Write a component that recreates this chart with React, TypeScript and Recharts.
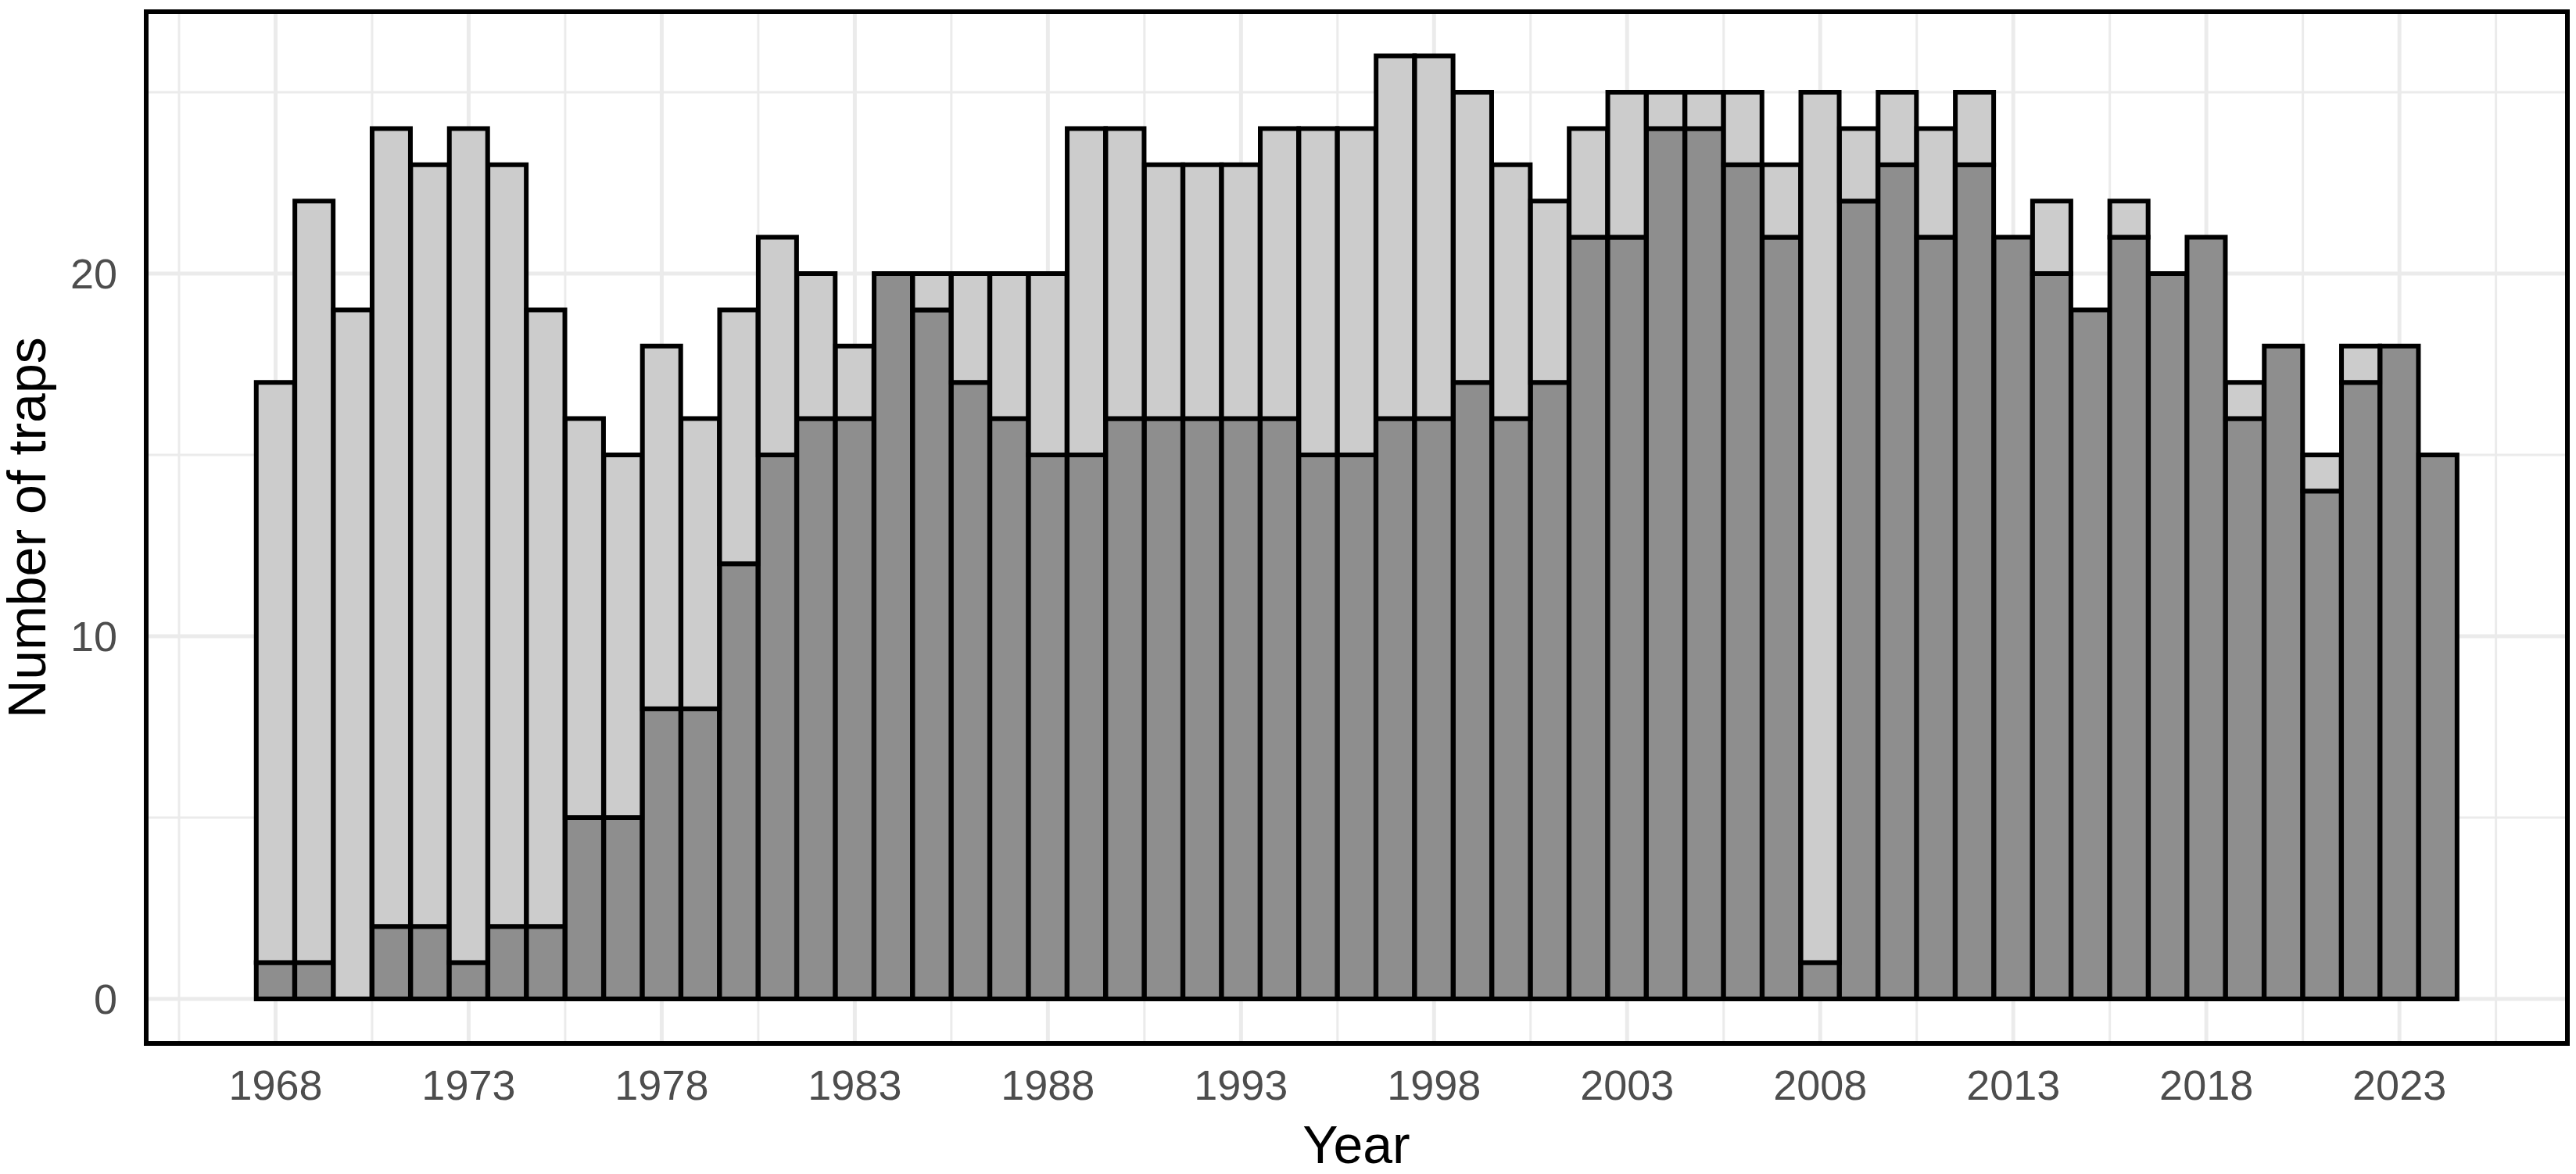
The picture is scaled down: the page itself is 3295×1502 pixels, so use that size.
import { BarChart, Bar, XAxis, YAxis, ReferenceLine, ReferenceArea } from "recharts";

// one bar per year, stacked: dark part at the bottom, light part up to the total
const years = [
  1968, 1969, 1970, 1971, 1972, 1973, 1974, 1975, 1976, 1977, 1978, 1979,
  1980, 1981, 1982, 1983, 1984, 1985, 1986, 1987, 1988, 1989, 1990, 1991,
  1992, 1993, 1994, 1995, 1996, 1997, 1998, 1999, 2000, 2001, 2002, 2003,
  2004, 2005, 2006, 2007, 2008, 2009, 2010, 2011, 2012, 2013, 2014, 2015,
  2016, 2017, 2018, 2019, 2020, 2021, 2022, 2023, 2024,
];
const totalTraps = [
  17, 22, 19, 24, 23, 24, 23, 19, 16, 15, 18, 16,
  19, 21, 20, 18, 20, 20, 20, 20, 20, 24, 24, 23,
  23, 23, 24, 24, 24, 26, 26, 25, 23, 22, 24, 25,
  25, 25, 25, 23, 25, 24, 25, 24, 25, 21, 22, 19,
  22, 20, 21, 17, 18, 15, 18, 18, 15,
];
const darkTraps = [
  1, 1, 0, 2, 2, 1, 2, 2, 5, 5, 8, 8,
  12, 15, 16, 16, 20, 19, 17, 16, 15, 15, 16, 16,
  16, 16, 16, 15, 15, 16, 16, 17, 16, 17, 21, 21,
  24, 24, 23, 21, 1, 22, 23, 21, 23, 21, 20, 19,
  21, 20, 21, 16, 18, 14, 17, 18, 15,
];

const xTicks = [1968, 1973, 1978, 1983, 1988, 1993, 1998, 2003, 2008, 2013, 2018, 2023];
const xMinorGrid = [1965.5, 1970.5, 1975.5, 1980.5, 1985.5, 1990.5, 1995.5, 2000.5, 2005.5, 2010.5, 2015.5, 2020.5, 2025.5];
const yTicks = [0, 10, 20];
const yMinorGrid = [5, 15, 25];

const X_DOMAIN: [number, number] = [1964.65, 2027.35];
const Y_DOMAIN: [number, number] = [-1.23, 27.22];

const data = years.map((year, i) => ({
  year,
  dark: darkTraps[i],
  light: totalTraps[i] - darkTraps[i],
}));

const FONT = '"Liberation Sans", Arial, Helvetica, sans-serif';
const GRID = "#EBEBEB";
const TITLE_SIZE = 68;

export default function App() {
  return (
    <div
      style={{
        position: "absolute",
        left: 0,
        top: 0,
        width: 3295,
        height: 1502,
        background: "#fff",
        fontFamily: FONT,
      }}
    >
      <BarChart
        width={3295}
        height={1502}
        data={data}
        margin={{ top: 15, right: 11, left: 0, bottom: 0 }}
        barCategoryGap={0}
        barGap={0}
      >
        <XAxis
          dataKey="year"
          type="number"
          domain={X_DOMAIN}
          allowDataOverflow
          ticks={xTicks}
          tickCount={63}
          interval={0}
          height={167}
          axisLine={false}
          tickLine={false}
          tickSize={0}
          tickMargin={34}
          tick={{ fontSize: 54, fill: "#4D4D4D", fontFamily: FONT }}
        />
        <YAxis
          type="number"
          domain={Y_DOMAIN}
          allowDataOverflow
          ticks={yTicks}
          width={187}
          axisLine={false}
          tickLine={false}
          tickSize={0}
          tickMargin={37}
          tick={{ fontSize: 54, fill: "#4D4D4D", fontFamily: FONT }}
        />

        {yMinorGrid.map((v) => (
          <ReferenceLine key={"ym" + v} y={v} stroke={GRID} strokeWidth={3} zIndex={-100} />
        ))}
        {xMinorGrid.map((v) => (
          <ReferenceLine key={"xm" + v} x={v} stroke={GRID} strokeWidth={3} zIndex={-100} />
        ))}
        {yTicks.map((v) => (
          <ReferenceLine key={"yM" + v} y={v} stroke={GRID} strokeWidth={5} zIndex={-100} />
        ))}
        {xTicks.map((v) => (
          <ReferenceLine key={"xM" + v} x={v} stroke={GRID} strokeWidth={5} zIndex={-100} />
        ))}

        <Bar dataKey="dark" stackId="t" fill="#8E8E8E" stroke="#000" strokeWidth={6} isAnimationActive={false} />
        <Bar dataKey="light" stackId="t" fill="#CCCCCC" stroke="#000" strokeWidth={6} isAnimationActive={false} />

        <ReferenceArea
          x1={X_DOMAIN[0]}
          x2={X_DOMAIN[1]}
          y1={Y_DOMAIN[0]}
          y2={Y_DOMAIN[1]}
          fill="none"
          fillOpacity={0}
          stroke="#000"
          strokeWidth={6}
          ifOverflow="visible"
          zIndex={900}
        />
      </BarChart>

      <div
        style={{
          position: "absolute",
          left: 1735 - 400,
          top: 1488 - 0.8465 * TITLE_SIZE,
          width: 800,
          textAlign: "center",
          fontSize: TITLE_SIZE,
          lineHeight: 1,
          color: "#000",
        }}
      >
        Year
      </div>
      <div
        style={{
          position: "absolute",
          left: 34 - 400,
          top: 675 - TITLE_SIZE / 2,
          width: 800,
          height: TITLE_SIZE,
          textAlign: "center",
          fontSize: TITLE_SIZE,
          lineHeight: 1,
          color: "#000",
          transform: "rotate(-90deg)",
          transformOrigin: "50% 50%",
        }}
      >
        Number of traps
      </div>
    </div>
  );
}
